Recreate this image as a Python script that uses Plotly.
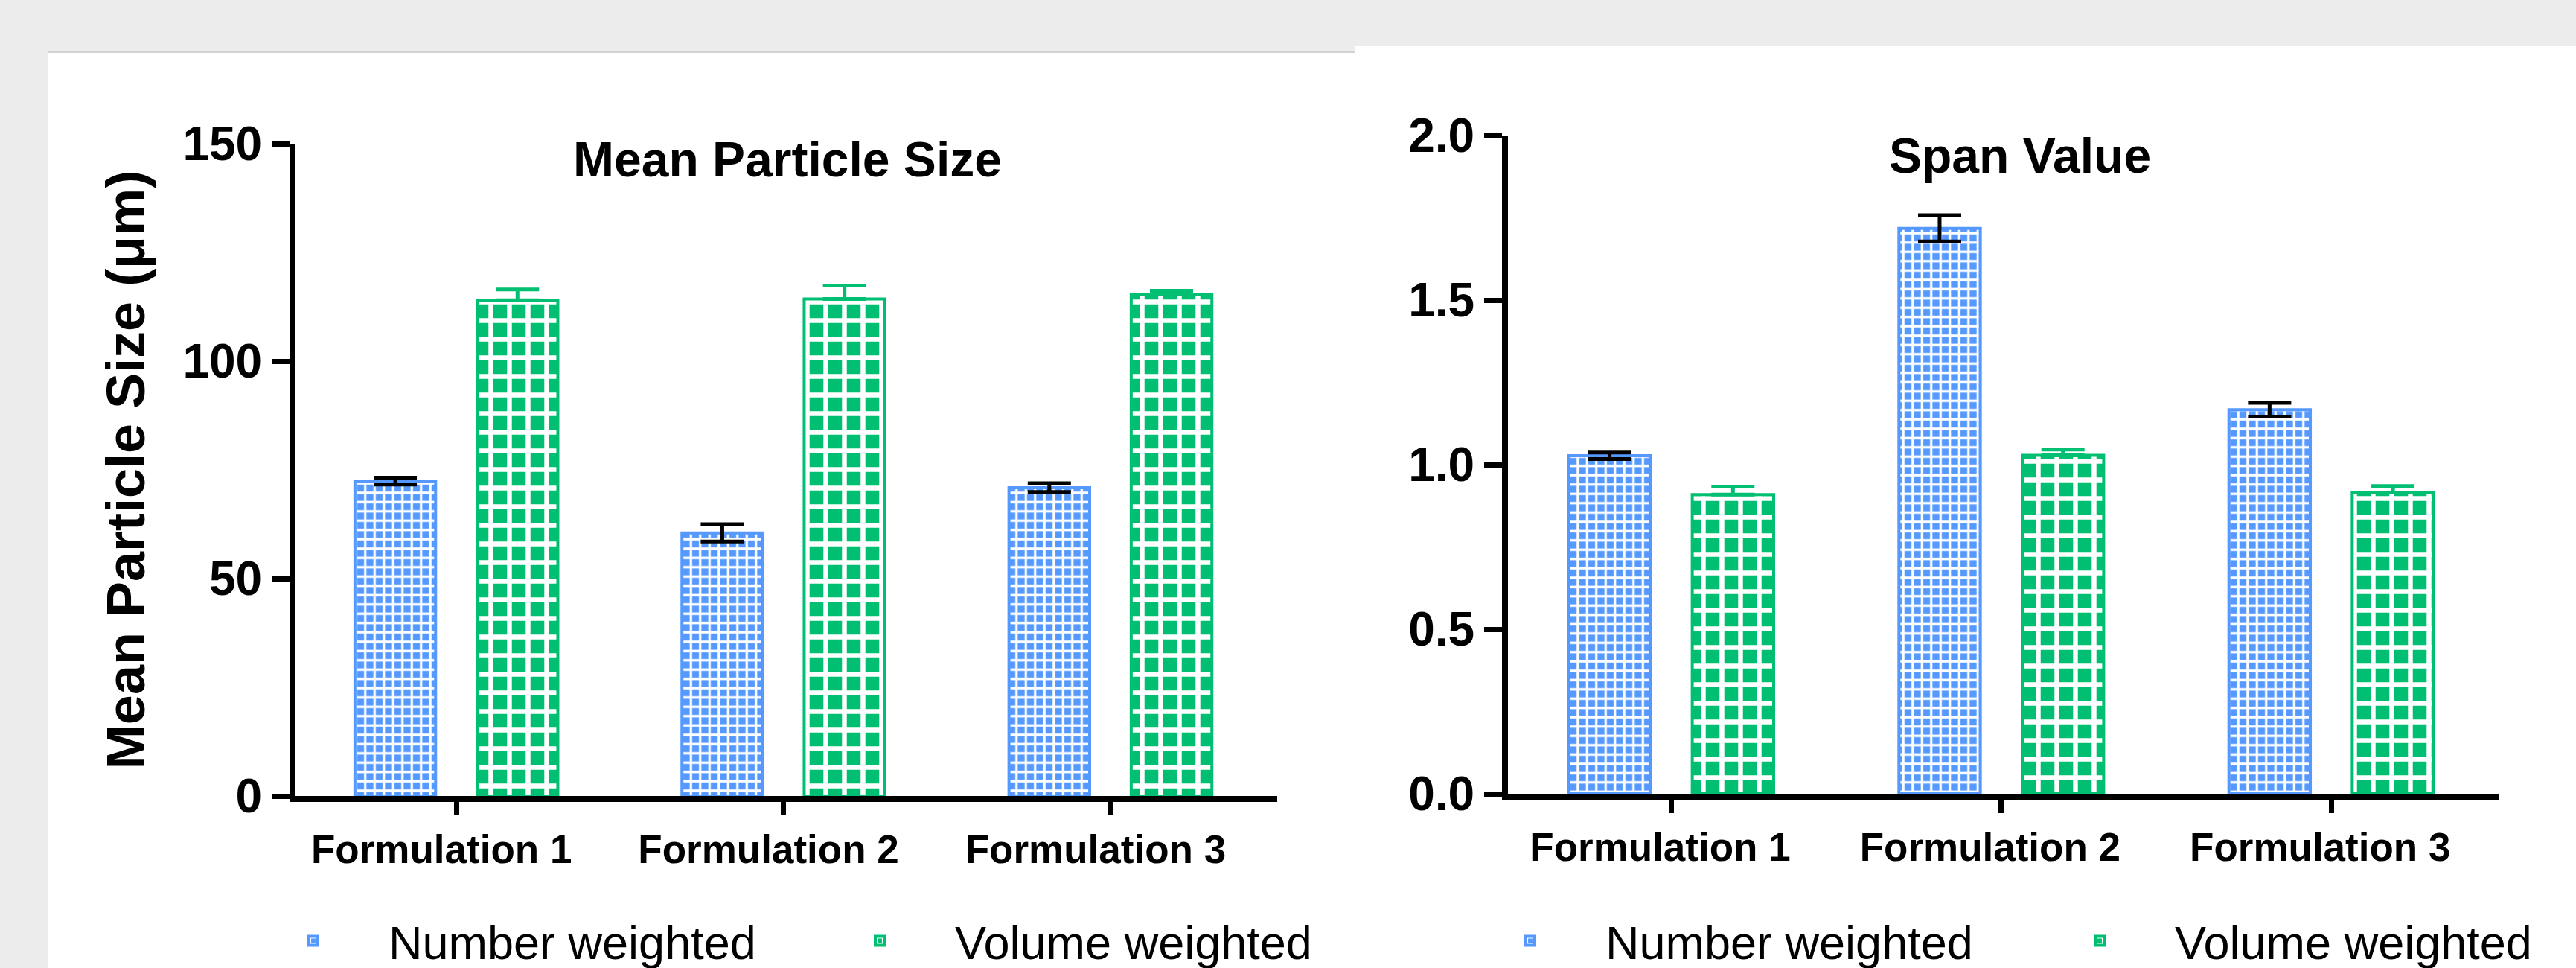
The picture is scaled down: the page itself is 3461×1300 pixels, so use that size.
import plotly.graph_objects as go

# ---------------- data ----------------
categories = ["Formulation 1", "Formulation 2", "Formulation 3"]
series_names = ["Number weighted", "Volume weighted"]

size_number = [72.4, 60.5, 70.9]
size_number_sd = [0.8, 2.0, 1.0]
size_volume = [114.0, 114.3, 115.4]
size_volume_sd = [2.5, 3.1, 0.8]

span_number = [1.027, 1.718, 1.167]
span_number_sd = [0.010, 0.040, 0.021]
span_volume = [0.909, 1.028, 0.915]
span_volume_sd = [0.024, 0.018, 0.020]

size_ticks = [0, 50, 100, 150]
span_ticks = [0.0, 0.5, 1.0, 1.5, 2.0]

left_title = "Mean Particle Size"
right_title = "Span Value"
left_ytitle = "Mean Particle Size (μm)"

# ---------------- style ----------------
W, H = 3461, 1300
FONT = "Liberation Sans, Arial, sans-serif"
BLUE = "#5599FF"
GREEN = "#00BF72"
BG = "#ECECEC"


def px_x(p):
    return p / W


def px_y(p):
    return 1 - p / H


blue_pattern = dict(shape="+", fillmode="replace", bgcolor=BLUE, fgcolor="white",
                    size=12.5, solidity=0.45)
green_pattern = dict(shape="+", fillmode="replace", bgcolor=GREEN, fgcolor="white",
                     size=25, solidity=0.45)

fig = go.Figure()

# left panel
fig.add_trace(go.Bar(
    x=categories, y=size_number, name=series_names[0],
    marker=dict(color=BLUE, pattern=blue_pattern, line=dict(color=BLUE, width=4)),
    error_y=dict(type="data", array=size_number_sd, visible=True, color="black",
                 thickness=5, width=29),
    xaxis="x", yaxis="y", legend="legend",
))
fig.add_trace(go.Bar(
    x=categories, y=size_volume, name=series_names[1],
    marker=dict(color=GREEN, pattern=green_pattern, line=dict(color=GREEN, width=4)),
    error_y=dict(type="data", array=size_volume_sd, arrayminus=[0] * len(size_volume_sd),
                 symmetric=False, visible=True, color=GREEN, thickness=5, width=29),
    xaxis="x", yaxis="y", legend="legend",
))
# right panel
fig.add_trace(go.Bar(
    x=categories, y=span_number, name=series_names[0],
    marker=dict(color=BLUE, pattern=blue_pattern, line=dict(color=BLUE, width=4)),
    error_y=dict(type="data", array=span_number_sd, visible=True, color="black",
                 thickness=5, width=29),
    xaxis="x2", yaxis="y2", legend="legend2",
))
fig.add_trace(go.Bar(
    x=categories, y=span_volume, name=series_names[1],
    marker=dict(color=GREEN, pattern=green_pattern, line=dict(color=GREEN, width=4)),
    error_y=dict(type="data", array=span_volume_sd, arrayminus=[0] * len(span_volume_sd),
                 symmetric=False, visible=True, color=GREEN, thickness=5, width=29),
    xaxis="x2", yaxis="y2", legend="legend2",
))

axis_common = dict(showline=True, linecolor="black", linewidth=8, showgrid=False,
                   zeroline=False, ticks="outside", tickcolor="black", automargin=False)

xtickfont = dict(family=FONT, size=53, color="black", weight="bold")
ytickfont = dict(family=FONT, size=64, color="black", weight="bold")

fig.update_layout(
    width=W, height=H,
    template="none",
    paper_bgcolor=BG, plot_bgcolor="rgba(0,0,0,0)",
    margin=dict(l=0, r=0, t=0, b=0, pad=0, autoexpand=False),
    barmode="group", bargap=0.2525, bargroupgap=0.34,
    font=dict(family=FONT, color="black"),
    xaxis=dict(axis_common, domain=[px_x(397), px_x(1716)], range=[-0.492, 2.51],
               type="category", ticklen=18, tickwidth=7, tickfont=xtickfont, anchor="y",
               ticklabelshift=-20),
    yaxis=dict(axis_common, domain=[px_y(1069), px_y(193)], range=[0, 150],
               tickvals=size_ticks, ticklen=24, tickwidth=7, tickfont=ytickfont, anchor="x",
               title=dict(text=left_ytitle, standoff=30,
                          font=dict(family=FONT, size=72, color="black", weight="bold"))),
    xaxis2=dict(axis_common, domain=[px_x(2026), px_x(3357)], range=[-0.495, 2.507],
                type="category", ticklen=18, tickwidth=7, tickfont=xtickfont, anchor="y2",
                ticklabelshift=-15),
    yaxis2=dict(axis_common, domain=[px_y(1066), px_y(182)], range=[0, 2.0],
                tickvals=span_ticks, tickformat=".1f", ticklen=24, tickwidth=7,
                tickfont=ytickfont, anchor="x2"),
    legend=dict(orientation="h", x=px_x(320), xanchor="left", y=px_y(1216), yanchor="top",
                font=dict(family=FONT, size=63, color="black"), itemwidth=192,
                entrywidth=554, entrywidthmode="pixels", bgcolor="rgba(0,0,0,0)",
                borderwidth=0, traceorder="normal"),
    legend2=dict(orientation="h", x=px_x(1955), xanchor="left", y=px_y(1216), yanchor="top",
                 font=dict(family=FONT, size=63, color="black"), itemwidth=192,
                 entrywidth=558, entrywidthmode="pixels", bgcolor="rgba(0,0,0,0)",
                 borderwidth=0, traceorder="normal"),
    showlegend=True,
    annotations=[
        dict(text=left_title, xref="paper", yref="paper", x=px_x(1058), y=px_y(213.7),
             xanchor="center", yanchor="middle", showarrow=False,
             font=dict(family=FONT, size=66, color="black", weight="bold")),
        dict(text=right_title, xref="paper", yref="paper", x=px_x(2714), y=px_y(209),
             xanchor="center", yanchor="middle", showarrow=False,
             font=dict(family=FONT, size=66, color="black", weight="bold")),
    ],
    shapes=[
        dict(type="rect", xref="paper", yref="paper", x0=px_x(65), x1=px_x(1820),
             y0=0, y1=px_y(70), fillcolor="white", line=dict(width=0), layer="below"),
        dict(type="line", xref="paper", yref="paper", x0=px_x(65), x1=px_x(1820),
             y0=px_y(70), y1=px_y(70), line=dict(color="#D2D2D2", width=2), layer="below"),
        dict(type="rect", xref="paper", yref="paper", x0=px_x(1820), x1=1,
             y0=0, y1=px_y(62), fillcolor="white", line=dict(width=0), layer="below"),
    ],
)

fig.write_html("out.html")
